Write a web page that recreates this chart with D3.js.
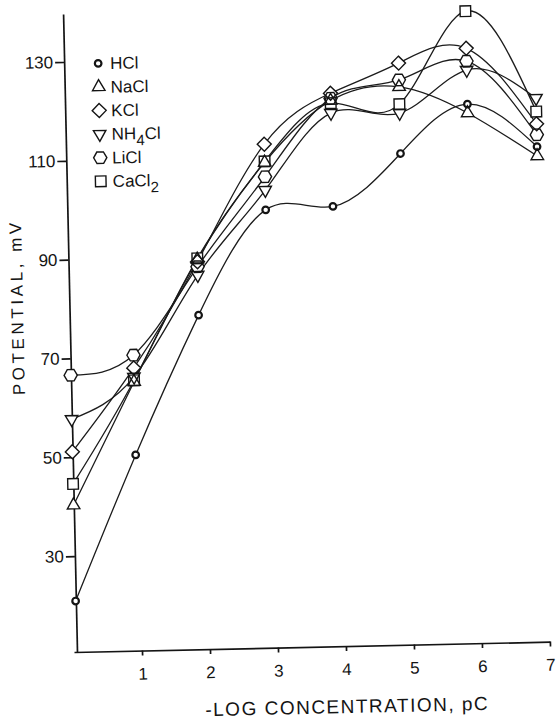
<!DOCTYPE html>
<html>
<head>
<meta charset="utf-8">
<script src="https://cdn.jsdelivr.net/npm/d3@7"></script>
<style>
    body { margin: 0; background: #fff; }
    svg { display: block; font-family: "Liberation Sans", Arial, sans-serif; }
    .axis path, .axis line { stroke: #141414; stroke-width: 1.7; }
    .axis text { font-size: 17px; fill: #141414; font-family: "Liberation Sans", Arial, sans-serif; }
    .series { fill: none; stroke: #1c1c1c; stroke-width: 1.3; }
    .marker-fill { fill: #fff; stroke: none; }
    .marker-line { fill: none; stroke: #141414; stroke-width: 1.4; }
    .title { font-size: 17px; fill: #141414; }
    .legend text { font-size: 17px; fill: #141414; }
</style>
</head>
<body>
<svg id="chart" width="560" height="719"></svg>
<script>
'use strict';

// -log concentration of each measured point (pC)
const pc_values = [0.04, 0.97, 1.94, 2.96, 3.95, 4.96, 5.96, 6.97];

// potential, mV
const hcl_mv   = [20.9, 50.2, 78.2, 99.2, 99.6, 110.0, 119.7, 110.8];
const nacl_mv  = [40.3, 65.0, 89.5, 108.8, 121.0, 123.5, 117.9, 108.9];
const kcl_mv   = [51.1, 67.8, 89.0, 112.5, 122.5, 128.3, 131.0, 115.4];
const nh4cl_mv = [57.7, 66.0, 86.3, 103.2, 118.5, 118.2, 126.6, 120.6];
const licl_mv  = [66.6, 70.4, 88.0, 105.9, 121.5, 124.9, 128.4, 113.2];
const cacl2_mv = [44.6, 65.3, 89.7, 109.0, 120.5, 120.0, 138.5, 117.9];

const salt_names = ['HCl', 'NaCl', 'KCl', 'NH4Cl', 'LiCl', 'CaCl2'];
// odd parts are subscripts
const legend_parts = [['HCl'], ['NaCl'], ['KCl'], ['NH', '4', 'Cl'], ['LiCl'], ['CaCl', '2']];
const salt_shapes = ['circle', 'triangle', 'diamond', 'triangle_down', 'hexagon', 'square'];

const x_ticks = [1, 2, 3, 4, 5, 6, 7];
const y_ticks = [30, 50, 70, 90, 110, 130];

const series = [hcl_mv, nacl_mv, kcl_mv, nh4cl_mv, licl_mv, cacl2_mv].map((vals, i) => ({
    name: salt_names[i],
    shape: salt_shapes[i],
    points: vals.map((v, j) => [pc_values[j], v])
}));

// the scanned figure sits a little tilted; reproduce that about the axis corner
const origin = {x: 74, y: 652};
const tilt = -1.25;

const xScale = d3.scaleLinear().domain([0, 7]).range([origin.x, 550]);
const yScale = d3.scaleLinear().domain([10.6, 139.7]).range([origin.y, 14]);

function marker_path(shape) {
    switch (shape) {
        case 'circle': {
            const r = 3.3;
            return `M${r},0A${r},${r} 0 1,1 ${-r},0A${r},${r} 0 1,1 ${r},0Z`;
        }
        case 'triangle': {
            const w = 12.5, h = w * 0.87;
            return `M0,${-h * 2 / 3}L${w / 2},${h / 3}L${-w / 2},${h / 3}Z`;
        }
        case 'triangle_down': {
            const w = 12.5, h = w * 0.87;
            return `M0,${h * 2 / 3}L${w / 2},${-h / 3}L${-w / 2},${-h / 3}Z`;
        }
        case 'diamond': {
            const r = 7;
            return `M0,${-r}L${r},0L0,${r}L${-r},0Z`;
        }
        case 'square': {
            const s = 5.3;
            return `M${-s},${-s}H${s}V${s}H${-s}Z`;
        }
        case 'hexagon': {
            const r = 6.6;
            return d3.range(6).map(k => {
                const a = Math.PI / 3 * k;
                return `${k ? 'L' : 'M'}${(r * Math.cos(a)).toFixed(2)},${(r * Math.sin(a)).toFixed(2)}`;
            }).join('') + 'Z';
        }
    }
}

const svg = d3.select('#chart');
const content = svg.append('g')
    .attr('transform', `rotate(${tilt},${origin.x},${origin.y})`);

const xAxis = d3.axisBottom(xScale)
    .tickValues(x_ticks)
    .tickFormat(d3.format('d'))
    .tickSizeInner(5)
    .tickSizeOuter(0)
    .tickPadding(12);
const yAxis = d3.axisLeft(yScale)
    .tickValues(y_ticks)
    .tickFormat(d3.format('d'))
    .tickSizeInner(9)
    .tickSizeOuter(0)
    .tickPadding(2);

content.append('g')
    .attr('class', 'axis x-axis')
    .attr('transform', `translate(0,${origin.y})`)
    .call(xAxis);
content.append('g')
    .attr('class', 'axis y-axis')
    .attr('transform', `translate(${origin.x + 3},0)`)
    .call(yAxis);
content.selectAll('.axis .domain').attr('fill', 'none');

// axis titles
content.append('text')
    .attr('class', 'title')
    .attr('x', 346)
    .attr('y', 719)
    .attr('text-anchor', 'middle')
    .style('font-size', '19px')
    .style('letter-spacing', '1.5px')
    .text('-LOG CONCENTRATION, pC');
content.append('text')
    .attr('class', 'title')
    .attr('transform', 'translate(25,306) rotate(-90)')
    .attr('text-anchor', 'middle')
    .attr('dominant-baseline', 'central')
    .style('letter-spacing', '3.6px')
    .text('POTENTIAL, mV');

// curves
const line = d3.line()
    .x(d => xScale(d[0]))
    .y(d => yScale(d[1]))
    .curve(d3.curveNatural);

content.append('g').selectAll('.series')
    .data(series)
    .enter().append('path')
    .attr('class', 'series')
    .attr('d', d => line(d.points));

// markers: white fill first so lines stop at the outlines, then every outline on top
const all_points = series.flatMap(s => s.points.map(p => ({shape: s.shape, p})));
const markers = content.append('g');
['marker-fill', 'marker-line'].forEach(cls => {
    markers.append('g').selectAll('path')
        .data(all_points)
        .enter().append('path')
        .attr('class', cls)
        .attr('d', d => marker_path(d.shape))
        .attr('transform', d => `translate(${xScale(d.p[0])},${yScale(d.p[1])})`)
        .style('stroke-width', d => cls === 'marker-line' && d.shape === 'circle' ? 2.2 : null);
});

// legend
const legend = content.append('g')
    .attr('class', 'legend')
    .attr('transform', 'translate(111,64)');
const items = legend.selectAll('.item')
    .data(series)
    .enter().append('g')
    .attr('class', 'item')
    .attr('transform', (d, i) => `translate(0,${i * 23.6})`);
items.append('path')
    .attr('class', 'marker-fill')
    .attr('d', d => marker_path(d.shape));
items.append('path')
    .attr('class', 'marker-line')
    .attr('d', d => marker_path(d.shape))
    .style('stroke-width', d => d.shape === 'circle' ? 2.2 : null);
const labels = items.append('text')
    .attr('x', 12)
    .attr('y', 6);
labels.each(function (d, i) {
    const t = d3.select(this);
    legend_parts[i].forEach((part, k) => {
        const span = t.append('tspan').text(part);
        if (k % 2 === 1) span.attr('dy', 6).style('font-size', '15px');
        else if (k > 0) span.attr('dy', -6);
    });
});
</script>
</body>
</html>
